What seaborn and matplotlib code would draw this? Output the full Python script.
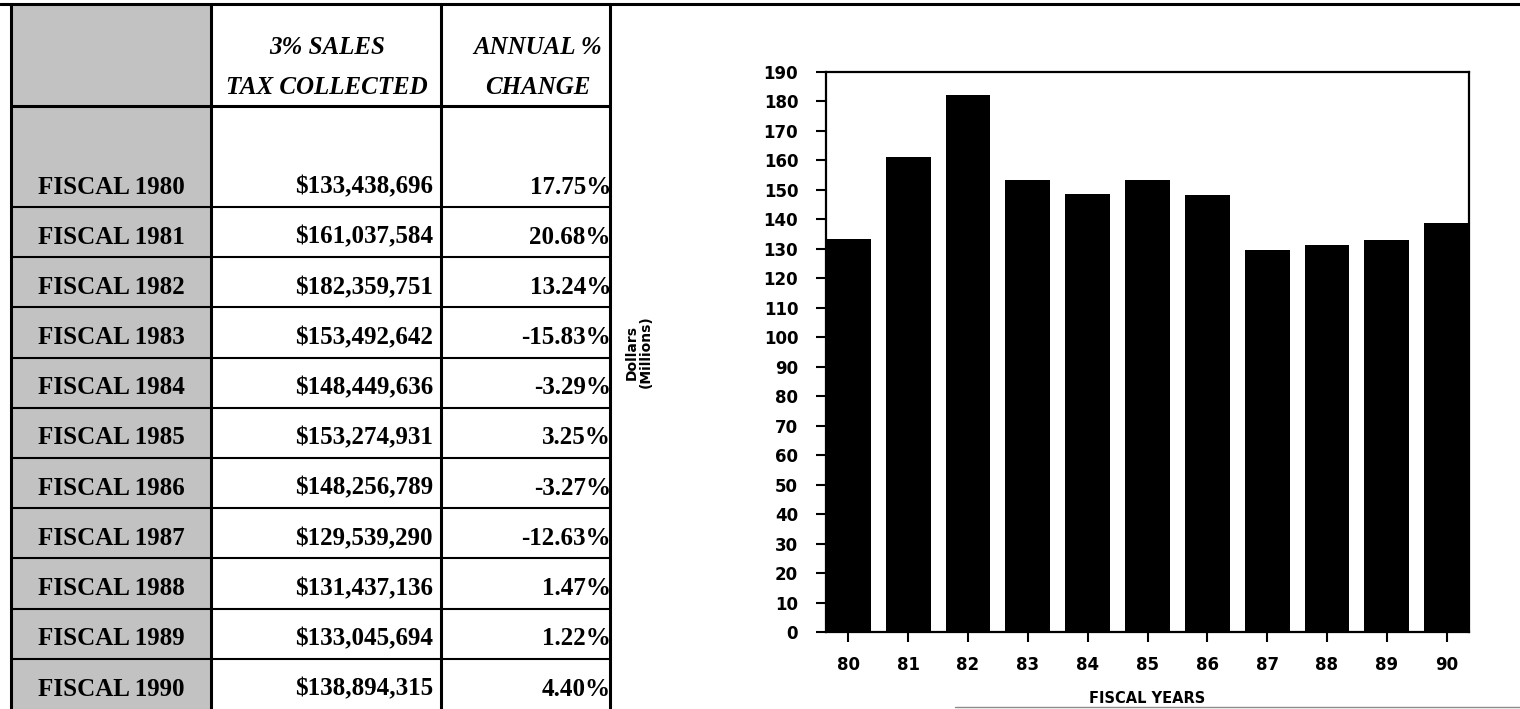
import matplotlib
matplotlib.use("Agg")
import matplotlib.pyplot as plt
from matplotlib.patches import Rectangle
import seaborn as sns

# data
years = [1980, 1981, 1982, 1983, 1984, 1985, 1986, 1987, 1988, 1989, 1990]
tax_collected = [133438696, 161037584, 182359751, 153492642, 148449636,
                 153274931, 148256789, 129539290, 131437136, 133045694,
                 138894315]
annual_change = [17.75, 20.68, 13.24, -15.83, -3.29, 3.25, -3.27, -12.63,
                 1.47, 1.22, 4.40]
year_labels = [str(y)[2:] for y in years]
tax_millions = [v / 1e6 for v in tax_collected]

sns.set_style("ticks")
plt.rcParams['font.family'] = ['DejaVu Sans']
plt.rcParams['font.weight'] = 'bold'
plt.rcParams['text.color'] = 'black'
plt.rcParams['axes.labelcolor'] = 'black'

fig = plt.figure(figsize=(15.2, 7.09), dpi=100)

# background axes in pixel coords for the table
bg = fig.add_axes([0, 0, 1, 1])
bg.set_xlim(0, 1520)
bg.set_ylim(709, 0)
bg.axis('off')

col_x = [11, 211, 441, 610]
head_bottom = 106
first_bottom = 207
row_h = 50.2
serif = dict(family='Liberation Serif', weight='bold', fontsize=18, color='black')

bg.add_patch(Rectangle((col_x[0], 4), col_x[1] - col_x[0], 709 - 4,
                       facecolor='#c2c2c2', edgecolor='none', zorder=0))

# frame lines
bg.plot([0, 1520], [4, 4], color='black', lw=2.2)
bg.plot([955, 1520], [707, 707], color='0.55', lw=1)
for x in col_x:
    bg.plot([x, x], [4, 709], color='black', lw=2.2)
bg.plot([col_x[0], col_x[-1]], [head_bottom, head_bottom], color='black', lw=2.2)
row_bottoms = [first_bottom + i * row_h for i in range(len(years))]
for yb in row_bottoms[:-1]:
    bg.plot([col_x[0], col_x[-1]], [yb, yb], color='black', lw=1.5)

# headers
hdr = dict(serif, style='italic', ha='center', va='center')
bg.text(327, 48, "3% SALES", **hdr)
bg.text(327, 88, "TAX COLLECTED", **hdr)
bg.text(538, 48, "ANNUAL %", **hdr)
bg.text(538, 88, "CHANGE", **hdr)

for yr, val, pct, yb in zip(years, tax_collected, annual_change, row_bottoms):
    yc = yb - 20
    bg.text(111, yc, f"FISCAL {yr}", ha='center', va='center', **serif)
    bg.text(433, yc, f"${val:,}", ha='right', va='center', **serif)
    bg.text(611, yc, f"{pct:.2f}%", ha='right', va='center', **serif)

# bar chart
ax = fig.add_axes([826 / 1520, (709 - 632) / 709, (1469 - 826) / 1520, (632 - 72) / 709])
sns.barplot(x=year_labels, y=tax_millions, color='black', saturation=1,
            width=0.75, errorbar=None, linewidth=0, ax=ax)
ax.set_xlim(-0.375, len(years) - 0.625)
ax.set_ylim(0, 190)
ax.set_yticks(range(0, 191, 10))
for s in ax.spines.values():
    s.set_visible(True)
    s.set_color('black')
    s.set_linewidth(1.6)
ax.tick_params(axis='y', direction='out', length=7, width=1.5, pad=13,
               labelsize=12, colors='black')
ax.tick_params(axis='x', direction='out', length=7, width=1.5, pad=10,
               labelsize=12, colors='black')
ax.set_xlabel("FISCAL YEARS", fontsize=10.5, fontweight='bold')
ax.xaxis.set_label_coords(0.5, -0.105)
ax.set_ylabel("Dollars\n(Millions)", fontsize=10, fontweight='bold', linespacing=0.95)
ax.yaxis.set_label_coords(-0.27, 0.5)

plt.savefig("out.png", dpi=100)
plt.close()
